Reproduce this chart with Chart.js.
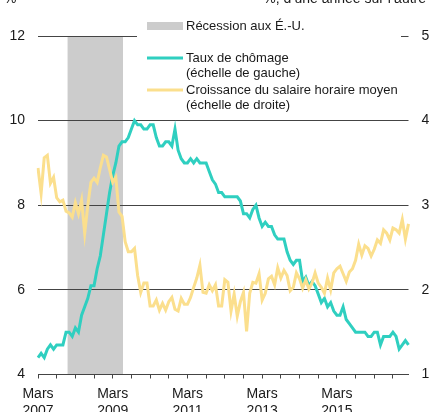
<!DOCTYPE html>
<html>
<head>
<meta charset="utf-8">
<script src="https://cdn.jsdelivr.net/npm/chart.js"></script>
<style>
  html, body { margin: 0; padding: 0; background: #fff; }
  #wrap { width: 430px; height: 412px; }
</style>
</head>
<body>
<div id="wrap"><canvas id="graphique"></canvas></div>
<script>
// Mois : de mars 2007 a fevrier 2017
const nomsMois = ['janv.', 'févr.', 'mars', 'avr.', 'mai', 'juin', 'juil.', 'août', 'sept.', 'oct.', 'nov.', 'déc.'];
const mois = [];
for (let k = 0; k < 120; k++) {
  mois.push(nomsMois[(2 + k) % 12] + ' ' + (2007 + Math.floor((2 + k) / 12)));
}
const anneesEtiquetees = ['2007', '2009', '2011', '2013', '2015'];

// Taux de chomage (echelle de gauche), %
const tauxChomage = [
  4.4, 4.5, 4.4, 4.6, 4.7, 4.6, 4.7, 4.7, 4.7, 5.0,
  5.0, 4.9, 5.1, 5.0, 5.4, 5.6, 5.8, 6.1, 6.1, 6.5, 6.8, 7.3,
  7.8, 8.3, 8.7, 9.0, 9.4, 9.5, 9.5, 9.6, 9.8, 10.0, 9.9, 9.9,
  9.8, 9.8, 9.9, 9.9, 9.6, 9.4, 9.4, 9.5, 9.5, 9.4, 9.8, 9.3,
  9.1, 9.0, 9.0, 9.1, 9.0, 9.1, 9.0, 9.0, 9.0, 8.8, 8.6, 8.5,
  8.3, 8.3, 8.2, 8.2, 8.2, 8.2, 8.2, 8.1, 7.8, 7.8, 7.7, 7.9,
  8.0, 7.7, 7.5, 7.6, 7.5, 7.5, 7.3, 7.2, 7.2, 7.2, 6.9, 6.7,
  6.6, 6.7, 6.7, 6.2, 6.3, 6.1, 6.2, 6.1, 5.9, 5.7, 5.8, 5.6,
  5.7, 5.5, 5.4, 5.4, 5.6, 5.3, 5.2, 5.1, 5.0, 5.0, 5.0, 5.0,
  4.9, 4.9, 5.0, 5.0, 4.7, 4.9, 4.9, 4.9, 5.0, 4.9, 4.6, 4.7,
  4.8, 4.7
];

// Croissance du salaire horaire moyen (echelle de droite), % d'une annee sur l'autre
const croissanceSalaire = [
  3.44, 3.14, 3.56, 3.59, 3.26, 3.33, 3.09, 3.04, 3.06, 2.93,
  2.91, 2.86, 3.03, 2.90, 3.06, 2.67, 3.00, 3.27, 3.32, 3.27,
  3.44, 3.59, 3.57, 3.42, 3.27, 3.33, 2.92, 2.87, 2.57, 2.45,
  2.45, 2.49, 2.17, 1.97, 2.08, 2.08, 1.81, 1.81, 1.88, 1.76,
  1.84, 1.76, 1.86, 1.91, 1.77, 1.75, 1.90, 1.83, 1.83, 1.91,
  2.03, 2.14, 2.29, 1.97, 1.96, 2.06, 1.99, 2.06, 1.81, 1.81,
  2.12, 2.09, 1.75, 1.95, 1.69, 1.86, 1.97, 1.51, 1.96, 2.09,
  2.08, 2.19, 1.88, 1.96, 2.13, 2.16, 2.06, 2.26, 2.14, 2.23,
  2.17, 1.99, 2.03, 2.20, 2.13, 2.02, 2.12, 2.01, 2.08, 2.20,
  2.08, 2.03, 1.96, 2.14, 2.00, 2.20, 2.25, 2.28, 2.19, 2.10,
  2.21, 2.25, 2.35, 2.54, 2.41, 2.52, 2.49, 2.40, 2.48, 2.59,
  2.55, 2.71, 2.67, 2.59, 2.73, 2.71, 2.67, 2.83, 2.60, 2.78
];

// Recession aux E.-U. (dec. 2007 a juin 2009), en position de mois
const recession = [9.5, 27.3];

const legende = [
  'Récession aux É.-U.',
  'Taux de chômage', '(échelle de gauche)',
  'Croissance du salaire horaire moyen', '(échelle de droite)'
];
const titreGauche = '%';
const titreDroite = '%, d\u2019une année sur l\u2019autre';

const couleurChomage = '#2fcfc0';
const couleurSalaire = '#fbdf8d';
const couleurRecession = '#cccccc';
const police = '"Liberation Sans", Arial, sans-serif';

// bande de recession sous la grille
const bandeRecession = {
  id: 'bandeRecession',
  beforeDraw(chart) {
    const { ctx, chartArea, scales } = chart;
    const x0 = scales.x.getPixelForValue(recession[0]);
    const x1 = scales.x.getPixelForValue(recession[1]);
    ctx.save();
    ctx.fillStyle = couleurRecession;
    ctx.fillRect(x0, chartArea.top, x1 - x0, chartArea.bottom - chartArea.top);
    ctx.restore();
  }
};

// legende dans le graphique et titres des axes
const legendeInterne = {
  id: 'legendeInterne',
  afterDraw(chart) {
    const ctx = chart.ctx;
    ctx.save();
    ctx.fillStyle = '#fff';
    ctx.fillRect(137, 14, 264, 99);

    ctx.fillStyle = couleurRecession;
    ctx.fillRect(147, 22, 36, 8);
    ctx.lineWidth = 3;
    ctx.strokeStyle = couleurChomage;
    ctx.beginPath(); ctx.moveTo(147, 58); ctx.lineTo(183, 58); ctx.stroke();
    ctx.strokeStyle = couleurSalaire;
    ctx.beginPath(); ctx.moveTo(147, 90); ctx.lineTo(183, 90); ctx.stroke();

    ctx.fillStyle = '#1a1a1a';
    ctx.font = '13px ' + police;
    ctx.textBaseline = 'middle';
    ctx.textAlign = 'left';
    const ys = [26.5, 58, 73, 90, 105.5];
    legende.forEach((t, i) => ctx.fillText(t, 186, ys[i]));

    ctx.font = '14px ' + police;
    ctx.textBaseline = 'alphabetic';
    ctx.fillText(titreGauche, 4, 3);
    ctx.textAlign = 'right';
    ctx.fillText(titreDroite, 426, 3);
    ctx.restore();
  }
};

new Chart(document.getElementById('graphique'), {
  type: 'line',
  data: {
    labels: mois,
    datasets: [{
      label: 'Taux de chômage',
      data: tauxChomage,
      yAxisID: 'y',
      borderColor: couleurChomage,
      borderWidth: 3,
      pointRadius: 0,
      tension: 0,
      order: 2
    }, {
      label: 'Croissance du salaire horaire moyen',
      data: croissanceSalaire,
      yAxisID: 'y1',
      borderColor: couleurSalaire,
      borderWidth: 3,
      pointRadius: 0,
      tension: 0,
      order: 1
    }]
  },
  options: {
    responsive: true,
    maintainAspectRatio: false,
    animation: false,
    layout: { padding: { top: 36, left: 0, right: 0, bottom: 0 } },
    plugins: {
      legend: { display: false },
      tooltip: { enabled: false }
    },
    scales: {
      x: {
        grid: {
          drawOnChartArea: false,
          drawTicks: true,
          tickLength: 4,
          tickColor: c => (c.index % 6 === 0 ? '#444' : 'rgba(0,0,0,0)')
        },
        border: { display: true, color: '#444', width: 1 },
        ticks: {
          autoSkip: false,
          maxRotation: 0,
          padding: 7,
          color: '#1a1a1a',
          font: { family: police, size: 14 },
          callback: function (value, index) {
            const [m, a] = mois[index].split(' ');
            return (m === 'mars' && anneesEtiquetees.includes(a)) ? ['Mars', a] : '';
          }
        },
        afterFit: s => { s.height = 37.5; }
      },
      y: {
        position: 'left',
        min: 4,
        max: 12,
        grid: { color: '#444', lineWidth: 1, drawTicks: false },
        border: { display: false },
        ticks: {
          stepSize: 2,
          padding: 13,
          color: '#1a1a1a',
          font: { family: police, size: 14 }
        },
        afterFit: s => { s.width = 38; }
      },
      y1: {
        position: 'right',
        min: 1,
        max: 5,
        grid: { display: false, drawTicks: false, tickLength: 0 },
        border: { display: false },
        ticks: {
          stepSize: 1,
          padding: 13,
          color: '#1a1a1a',
          font: { family: police, size: 14 }
        },
        afterFit: s => { s.width = 21.5; }
      }
    }
  },
  plugins: [bandeRecession, legendeInterne]
});
</script>
</body>
</html>
